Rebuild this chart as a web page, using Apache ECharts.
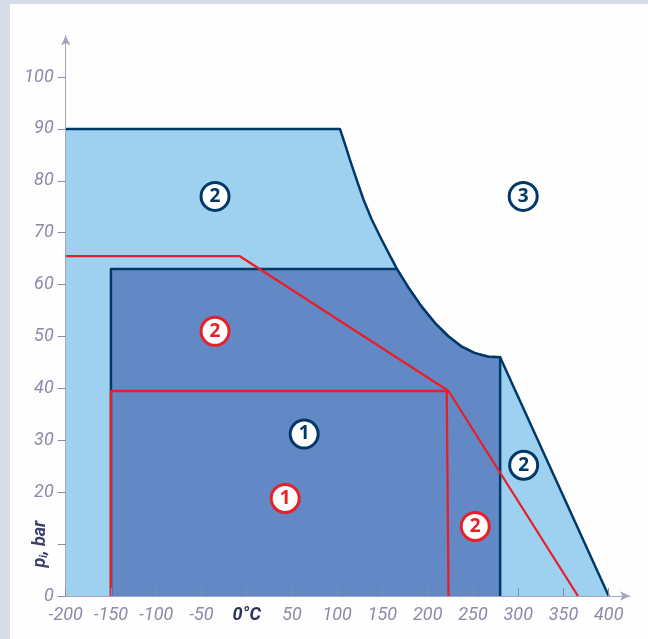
<!DOCTYPE html>
<html>
<head>
<meta charset="utf-8">
<script src="https://cdn.jsdelivr.net/npm/echarts@6/dist/echarts.min.js"></script>
<style>
  html, body { margin: 0; padding: 0; background: #d6dde9; }
  #frame { position: relative; width: 648px; height: 639px; background: #d6dde9; }
  #chart { position: absolute; left: 10px; top: 4px; width: 638px; height: 635px; background: #fefefe; }
</style>
</head>
<body>
<div id="frame"><div id="chart"></div></div>
<script>
// axis ticks and labels
var xTicks = [-200, -150, -100, -50, 0, 50, 100, 150, 200, 250, 300, 350, 400];
var yTicks = [0, 10, 20, 30, 40, 50, 60, 70, 80, 90, 100];
var yLabels = [0, 20, 30, 40, 50, 60, 70, 80, 90, 100];

// area 2 (light): top edge, curve, and right slope down to 0
var outerEdge = [[-200, 90], [103, 90], [108.5, 87.1], [114, 84.1], [121.5, 80.2], [129, 76.4],
                 [138, 72.6], [149, 68.7], [160, 65.0], [167, 62.7], [178, 59.6], [193, 55.8],
                 [208, 52.6], [223, 50.0], [238, 48.0], [252, 46.8], [267, 46.1], [280, 46],
                 [400, 0]];
// area 1 (dark): box with the same curve on the top right
var innerEdge = [[-150, 0], [-150, 63], [166, 63], [167, 62.7], [178, 59.6], [193, 55.8],
                 [208, 52.6], [223, 50.0], [238, 48.0], [252, 46.8], [267, 46.1], [280, 46],
                 [280, 0]];
// red limits
var redUpper = [[-200, 65.5], [-8, 65.5], [223, 39.5], [366, 0]];
var redLower = [[-150, 0], [-150, 39.5], [221, 39.5], [223, 0]];

// circled numbers [x, y, text]
var navyMarks = [[-35, 77, '2'], [305.5, 77, '3'], [63.5, 31.2, '1'], [306, 25.2, '2']];
var redMarks = [[-35, 51, '2'], [42.5, 18.8, '1'], [252.5, 13.4, '2']];

var navy = '#003868';
var red = '#e81e28';
var tickColor = '#8c8aa8';
var labelFont = 'Roboto, sans-serif';

function markSeries(data, color) {
    return {
        type: 'scatter',
        data: data,
        symbol: 'circle',
        symbolSize: 28,
        silent: true,
        z: 6,
        itemStyle: { color: '#ffffff', borderColor: color, borderWidth: 3, opacity: 1 },
        label: {
            show: true,
            position: 'inside',
            formatter: function (p) { return p.data[2]; },
            color: color,
            fontFamily: '"Open Sans", sans-serif',
            fontWeight: 'bold',
            fontSize: 19
        }
    };
}

var option = {
    animation: false,
    grid: { left: 55.7, right: 18, top: 31.5, bottom: 43 },
    xAxis: {
        type: 'value',
        min: -200,
        max: 423.5,
        interval: 50,
        z: 5,
        splitLine: { show: false },
        axisLine: {
            onZero: false,
            symbol: ['none', 'arrow'],
            symbolSize: [7, 10],
            lineStyle: { color: '#a4a6bf', width: 1 }
        },
        axisTick: {
            customValues: xTicks,
            inside: true,
            length: 8,
            lineStyle: { color: tickColor }
        },
        axisLabel: {
            customValues: xTicks,
            margin: 10,
            color: tickColor,
            fontFamily: labelFont,
            fontStyle: 'italic',
            fontSize: 18,
            formatter: function (v) { return v === 0 ? '{b|0°C}' : String(v); },
            rich: {
                b: { color: '#2b2f5c', fontWeight: 'bold', fontStyle: 'italic',
                     fontFamily: labelFont, fontSize: 18 }
            }
        }
    },
    yAxis: {
        type: 'value',
        min: 0,
        max: 108,
        interval: 10,
        z: 5,
        splitLine: { show: false },
        axisLine: {
            onZero: false,
            symbol: ['none', 'arrow'],
            symbolSize: [7, 10],
            lineStyle: { color: '#a4a6bf', width: 1 }
        },
        axisTick: {
            customValues: yTicks,
            length: 8,
            lineStyle: { color: tickColor }
        },
        axisLabel: {
            customValues: yLabels,
            margin: 12,
            color: tickColor,
            fontFamily: labelFont,
            fontStyle: 'italic',
            fontSize: 18
        }
    },
    graphic: [{
        type: 'text',
        x: 30,
        y: 540,
        rotation: Math.PI / 2,
        style: {
            text: '{p|p}{s|i}{p|, bar}',
            align: 'center',
            verticalAlign: 'middle',
            rich: {
                p: { fontFamily: labelFont, fontStyle: 'italic', fontWeight: 'bold', fontSize: 18, fill: '#3a3f6a' },
                s: { fontFamily: labelFont, fontStyle: 'italic', fontWeight: 'bold', fontSize: 11, fill: '#3a3f6a', padding: [8, 0, 0, 0] }
            }
        }
    }],
    series: [
        {
            type: 'line',
            data: outerEdge,
            showSymbol: false,
            silent: true,
            z: 1,
            lineStyle: { color: navy, width: 2.5, join: 'round' },
            areaStyle: { color: '#9ed0f0', opacity: 1 }
        },
        {
            type: 'line',
            data: innerEdge,
            showSymbol: false,
            silent: true,
            z: 2,
            lineStyle: { color: navy, width: 2.5, join: 'round' },
            areaStyle: { color: '#6289c5', opacity: 1 }
        },
        {
            type: 'line',
            data: redUpper,
            showSymbol: false,
            silent: true,
            z: 3,
            lineStyle: { color: red, width: 2.3 }
        },
        {
            type: 'line',
            data: redLower,
            showSymbol: false,
            silent: true,
            z: 3,
            lineStyle: { color: red, width: 2.3 }
        },
        markSeries(navyMarks, navy),
        markSeries(redMarks, red)
    ]
};

var chart = echarts.init(document.getElementById('chart'));
chart.setOption(option);
</script>
</body>
</html>
